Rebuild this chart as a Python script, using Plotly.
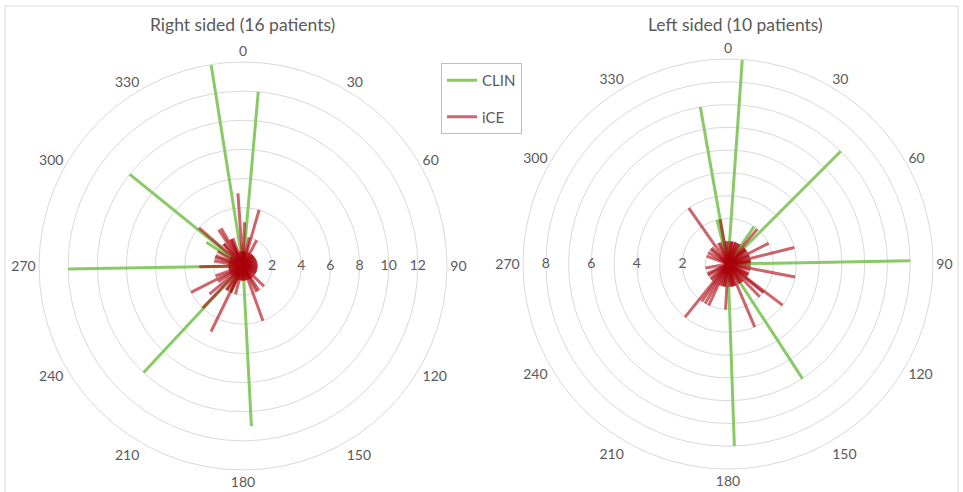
import plotly.graph_objects as go

# Angular positions (degrees, clockwise from top) and counts per spike
right_clin_angles = [351, 5, 309, 303, 269, 223, 177, 205]
right_clin_values = [14, 12, 10, 3, 12, 10, 11, 2]

right_ice_angles = [356, 16, 2, 326, 311, 291, 269, 243, 224, 230, 206, 205, 160, 147, 134,
                    320, 335, 195, 215, 250, 280, 330, 336, 340, 318, 300, 287, 238, 213, 152, 12, 28,
                    120, 140, 185, 170, 8, 24, 40, 48, 60, 72, 84, 96, 108, 150, 165, 190, 200,
                    236, 258, 285, 298, 346, 0, 6, 34, 44, 54, 66, 78, 90, 102, 114, 126, 155,
                    175, 180, 220, 248, 262, 275, 305, 352]
right_ice_values = [5, 4, 3, 3, 4, 2, 3, 4, 4, 3, 5, 2, 4, 2, 2,
                    2, 2, 2, 2, 2, 2, 3, 2, 2, 2, 2, 2, 2, 2, 2, 2, 2,
                    1, 1, 1, 1, 1, 1, 1, 1, 1, 1, 1, 1, 1, 1, 1, 1, 1,
                    1, 1, 1, 1, 1, 1, 1, 1, 1, 1, 1, 1, 1, 1, 1, 1, 1,
                    1, 1, 1, 1, 1, 1, 1, 1]

left_clin_angles = [4, 350, 45, 89, 147, 178, 35, 346]
left_clin_values = [9, 7, 7, 8, 6, 8, 2, 2]

left_ice_angles = [325, 76, 101, 127, 157, 219, 210, 215, 205, 183, 63, 40, 350, 129, 136,
                   10, 20, 30, 50, 70, 85, 95, 115, 145, 165, 170, 190, 200, 230, 240, 300,
                   315, 335, 355, 0, 8, 15, 22, 28, 47, 52, 57, 68, 80, 84, 105, 118, 122,
                   140, 150, 162, 168, 175, 188, 195, 225, 245, 260, 290, 310, 340]
left_ice_values = [3, 3, 3, 3, 3, 3, 2, 2, 2, 2, 2, 2, 2, 2, 2,
                   1, 1, 1, 1, 1, 1, 1, 1, 1, 1, 1, 1, 1, 1, 1, 1,
                   1, 1, 1, 1, 1, 1, 1, 1, 1, 1, 1, 1, 1, 1, 1, 1, 1,
                   1, 1, 1, 1, 1, 1, 1, 1, 1, 1, 1, 1, 1]

angle_ticks = list(range(0, 360, 30))
angle_labels = [str(a) for a in angle_ticks]

right_rmax = 14
right_rlabels = [2, 4, 6, 8, 10, 12]
left_rmax = 9
left_rlabels = [2, 4, 6, 8]

CLIN_COLOR = "rgba(125,196,85,0.9)"
ICE_COLOR = "rgba(170,0,10,0.6)"
GRID = "#d9d9d9"
TEXT = "#595959"
FONT = "Lato"

fig = go.Figure()


def add_spikes(sub, angles, values, name, color, group, legend):
    """Each spike rises from the centre at one degree and returns at the next,
    drawn as its own path so overlapping translucent strokes build up."""
    first = True
    for a, v in zip(angles, values):
        fig.add_trace(go.Scatterpolar(
            r=[0, v, 0], theta=[a - 1, a, a + 1], mode="lines", name=name,
            line=dict(color=color, width=3), subplot=sub,
            showlegend=legend and first, legendgroup=group, hoverinfo="skip"))
        first = False


panels = [
    ("polar", right_clin_angles, right_clin_values, right_ice_angles, right_ice_values,
     right_rlabels, 90, True),
    ("polar2", left_clin_angles, left_clin_values, left_ice_angles, left_ice_values,
     left_rlabels, 270, False),
]

for sub, ca, cv, ia, iv, rl, lab_theta, legend in panels:
    add_spikes(sub, ca, cv, "CLIN", CLIN_COLOR, "clin", legend)
    add_spikes(sub, ia, iv, "iCE", ICE_COLOR, "ice", legend)
    fig.add_trace(go.Scatterpolar(r=rl, theta=[lab_theta] * len(rl), mode="text",
                                  text=[str(v) for v in rl],
                                  textfont=dict(family=FONT, size=14, color=TEXT),
                                  subplot=sub, showlegend=False, hoverinfo="skip",
                                  cliponaxis=False))


def polar_layout(domain_x, domain_y, rmax, dtick):
    return dict(
        domain=dict(x=domain_x, y=domain_y),
        bgcolor="white",
        angularaxis=dict(rotation=90, direction="clockwise", tickmode="array",
                         tickvals=angle_ticks, ticktext=angle_labels, showgrid=False,
                         showline=True, linecolor=GRID, linewidth=1, ticks="",
                         tickfont=dict(family=FONT, size=14, color=TEXT)),
        radialaxis=dict(range=[0, rmax], dtick=dtick, tick0=0, showline=False,
                        showticklabels=False, ticks="", gridcolor=GRID, gridwidth=1),
    )


fig.update_layout(
    width=963, height=492,
    margin=dict(l=0, r=0, t=0, b=0),
    paper_bgcolor="white",
    polar=polar_layout([39 / 963, 447 / 963], [22 / 492, 430 / 492], right_rmax, 2),
    polar2=polar_layout([523 / 963, 933 / 963], [23 / 492, 433 / 492], left_rmax, 1),
    legend=dict(x=441 / 963, y=1 - 63 / 492, xanchor="left", yanchor="top",
                bordercolor="#bfbfbf", borderwidth=1, bgcolor="white",
                font=dict(family=FONT, size=15, color=TEXT), tracegroupgap=14,
                itemwidth=30),
    annotations=[
        dict(text="Right sided (16 patients)", x=243 / 963, y=1 - 25 / 492, xref="paper",
             yref="paper", xanchor="center", yanchor="middle", showarrow=False,
             font=dict(family=FONT, size=17.5, color=TEXT)),
        dict(text="Left sided (10 patients)", x=735 / 963, y=1 - 25 / 492, xref="paper",
             yref="paper", xanchor="center", yanchor="middle", showarrow=False,
             font=dict(family=FONT, size=17.5, color=TEXT)),
    ],
    shapes=[dict(type="rect", xref="paper", yref="paper", x0=5 / 963, x1=958 / 963,
                 y0=-0.01, y1=1 - 6 / 492, line=dict(color=GRID, width=1))],
)

fig.write_html("out.html")
